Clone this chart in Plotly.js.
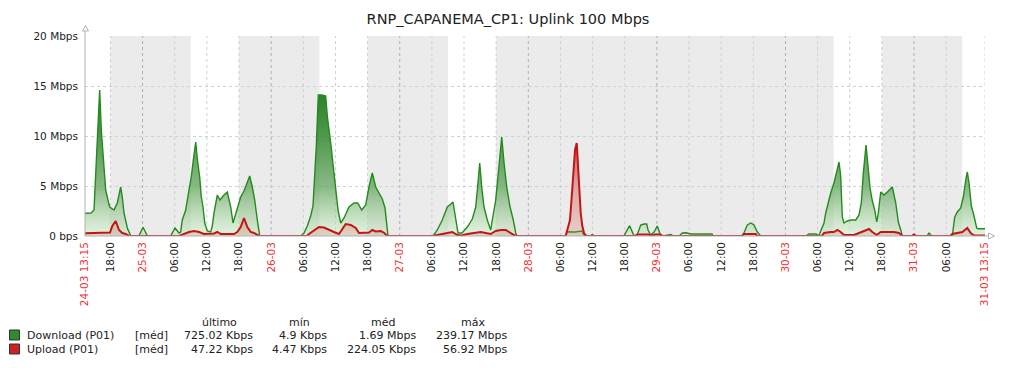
<!DOCTYPE html>
<html><head><meta charset="utf-8">
<script src="https://cdn.plot.ly/plotly-3.0.1.min.js"></script>
<style>html,body{margin:0;padding:0;background:#fff}#chart{width:1016px;height:368px}</style>
</head><body><div id="chart"></div>
<script>
const chartTitle = 'RNP_CAPANEMA_CP1: Uplink 100 Mbps';

// hours since 24-03 13:15, values in Mbps
const dlHours = [0,1.12,1.68,2.0,2.30,2.56,2.74,3.04,3.42,3.86,
 4.29,4.61,5.41,6.03,6.66,6.96,7.28,7.60,7.90,8.53,
 10.08,10.83,11.63,16.0,16.80,17.55,17.86,18.16,18.80,19.41,
 19.84,20.22,20.67,20.96,21.41,21.71,22.03,22.35,22.83,23.46,
 23.76,24.08,24.70,25.20,25.63,25.95,26.56,27.20,27.63,28.43,
 29.06,29.68,30.30,30.74,31.23,31.68,32.16,32.61,40.27,40.88,
 41.50,42.13,42.56,42.88,43.18,43.55,44.24,44.93,45.23,45.87,
 46.29,46.80,47.23,47.73,48.35,49.28,50.21,50.91,51.65,52.40,
 53.01,53.63,54.27,54.88,55.50,56.0,56.43,56.56,64.99,65.76,
 66.69,67.63,68.70,69.20,69.63,70.38,71.36,72.30,72.93,73.36,
 73.68,74.05,74.48,75.10,75.73,76.03,76.67,77.15,77.60,77.79,
 78.22,78.72,79.34,79.95,80.40,80.64,89.73,89.98,91.47,92.78,
 93.15,94.27,94.70,95.0,100.6,101.66,102.48,103.10,103.73,104.35,
 104.85,105.10,105.60,106.22,106.83,107.34,107.9,109.33,109.76,110.9,
 111.5,112.2,113.12,117.04,117.23,122.64,123.01,123.63,124.27,124.88,
 125.50,126.13,134.59,135.15,136.45,137.01,137.33,137.95,138.27,138.56,
 139.20,139.81,140.43,140.75,141.06,141.36,141.68,142.30,142.93,143.87,
 144.48,144.91,145.29,145.79,146.16,146.54,146.97,147.41,147.79,148.09,
 148.53,149.15,149.77,150.70,151.34,151.82,152.27,152.57,157.18,157.55,
 158.11,161.90,162.35,162.83,163.47,163.95,164.40,164.70,165.02,165.45,
 165.95,166.45,166.69,168];
const dlMbps = [2.27,2.3,2.6,6.3,10.6,13.3,14.6,10.6,7.3,4.6,
 3.6,2.9,2.6,3.3,4.9,3.9,2.3,1.3,0.8,0.01,
 0.01,0.87,0.01,0.01,0.8,0.3,0.4,1.6,2.6,4.6,
 5.9,7.6,9.4,7.7,5.9,3.9,2.9,1.3,0.5,0.4,
 1.0,2.3,4.1,3.6,3.9,4.1,4.4,2.9,1.3,2.9,
 3.9,4.5,5.4,6.0,4.9,3.6,1.6,0.01,0.01,0.3,
 1.0,2.0,3.0,5.6,9.0,14.1,14.1,14.0,12.0,9.3,
 7.3,5.3,2.6,1.3,1.8,2.9,3.3,3.3,2.6,3.1,
 4.9,6.3,4.9,4.3,3.7,2.8,0.3,0.01,0.01,0.6,
 1.6,2.9,3.4,1.6,0.3,0.3,0.9,1.7,2.9,5.3,
 7.3,4.9,2.9,1.6,0.6,1.6,3.6,6.3,9.1,9.9,
 7.3,4.9,2.9,1.6,0.3,0.01,0.01,0.43,0.4,0.5,
 0.1,0.01,0.15,0.01,0.01,1.03,0.01,0.15,1.1,1.2,
 1.2,0.6,0.1,0.4,1.0,0.2,0.01,0.15,0.01,0.01,
 0.3,0.33,0.2,0.2,0.01,0.01,0.3,1.1,1.3,1.1,
 0.4,0.01,0.01,0.2,0.2,0.01,0.5,1.3,2.3,3.0,
 4.3,5.3,6.6,7.4,6.0,1.9,1.3,1.5,1.6,1.6,
 2.1,3.3,6.3,9.1,7.0,4.8,3.5,2.6,1.4,2.3,
 4.4,4.1,4.4,4.9,3.3,1.4,0.6,0.01,0.01,0.3,
 0.01,0.01,1.9,2.4,2.8,3.9,5.6,6.4,5.3,3.0,
 2.0,0.8,0.73,0.73];

const ulHours = [0,2.24,4.1,4.67,5.10,5.73,6.35,6.96,7.60,8.21,
 17.55,18.48,19.41,20.35,21.28,22.21,23.15,24.08,24.70,25.33,
 27.20,27.81,28.43,29.06,29.68,30.30,30.93,31.55,32.48,41.44,
 41.81,42.75,43.68,44.61,45.55,46.48,47.41,47.97,48.67,49.60,
 50.53,51.15,52.08,53.01,53.63,54.27,55.20,55.82,56.43,64.9,
 65.76,66.69,67.63,68.56,69.50,70.38,71.36,72.61,73.87,74.80,
 75.73,76.67,77.60,78.53,79.15,80.08,80.64,89.73,90.03,90.53,
 90.85,91.15,91.47,91.79,92.03,92.27,92.53,92.83,93.15,93.52,
 102.85,103.10,105.28,105.66,106.40,107.34,107.71,122.64,123.01,125.20,
 125.44,137.58,137.95,139.20,139.81,140.43,141.06,141.68,143.55,144.48,
 145.41,146.35,146.97,147.79,148.53,151.01,151.94,152.57,154.38,154.75,
 155.13,161.47,161.90,162.83,163.77,164.70,165.33,165.95,168];
const ulMbps = [0.27,0.33,0.33,0.35,1.0,1.5,0.6,0.3,0.2,0.01,
 0.01,0.2,0.4,0.5,0.4,0.2,0.2,0.25,0.4,0.2,
 0.2,0.2,0.4,0.9,1.8,0.9,0.4,0.3,0.01,0.01,
 0.2,0.6,0.9,0.85,0.6,0.4,0.2,0.6,1.2,1.1,
 0.8,0.3,0.3,0.35,0.6,0.45,0.5,0.33,0.01,0.01,
 0.1,0.2,0.3,0.4,0.1,0.05,0.2,0.3,0.4,0.3,
 0.2,0.5,0.6,0.6,0.4,0.1,0.01,0.01,0.6,1.6,
 3.9,6.3,8.6,9.3,7.3,4.6,2.3,1.0,0.3,0.01,
 0.01,0.15,0.15,0.01,0.15,0.15,0.01,0.01,0.2,0.2,
 0.01,0.01,0.3,0.4,0.4,0.6,0.4,0.1,0.1,0.3,
 0.5,0.7,0.4,0.1,0.4,0.4,0.3,0.01,0.01,0.15,
 0.01,0.01,0.2,0.3,0.4,0.8,0.3,0.05,0.05];

const tickHours = [0,4.75,10.75,16.75,22.75,28.75,34.75,40.75,46.75,52.75,
 58.75,64.75,70.75,76.75,82.75,88.75,94.75,100.75,106.75,112.75,
 118.75,124.75,130.75,136.75,142.75,148.75,154.75,160.75,168];
const tickLabels = ['24-03 13:15','18:00','25-03','06:00','12:00','18:00','26-03','06:00','12:00','18:00',
 '27-03','06:00','12:00','18:00','28-03','06:00','12:00','18:00','29-03','06:00',
 '12:00','18:00','30-03','06:00','12:00','18:00','31-03','06:00','31-03 13:15'];
const offStart = [4.75,28.75,52.75,76.75,148.75];
const offEnd   = [19.75,43.75,67.75,139.75,163.75];
const yTickVals = [0,5,10,15,20];
const yTickText = ['0 bps','5 Mbps','10 Mbps','15 Mbps','20 Mbps'];

const legendNames = ['Download (P01)','Upload (P01)'];
const legendColors = ['#2e8b2e','#cc2222'];
const legendFunc = '[méd]';
const statHeaders = ['último','mín','méd','máx'];
const statRows = [
  ['725.02 Kbps','4.9 Kbps','1.69 Mbps','239.17 Mbps'],
  ['47.22 Kbps','4.47 Kbps','224.05 Kbps','56.92 Mbps']
];

const FONT = 'DejaVu Sans';
const TXT = '#222';
const RED = '#ee3333';
const LFS = 11;

// pixel helpers for plot area (l=85,t=36,w=900,h=200)
const px = x => (x - 85) / 900;
const py = y => (236 - y) / 200;

const shapes = [];
offStart.forEach((s, i) => shapes.push({type:'rect', xref:'x', yref:'y', x0:s, x1:offEnd[i], y0:0, y1:20,
  fillcolor:'#ebebeb', line:{width:0}, layer:'below'}));
tickHours.forEach((h, i) => {
  const isDay = tickLabels[i].length === 5 && tickLabels[i].indexOf('-') > 0;
  if (h === 0) return;
  shapes.push({type:'line', xref:'x', yref:'y', x0:h, x1:h, y0:0, y1:20,
    line:{color: isDay ? '#a9b2b9' : '#c9d0d4', width:1, dash:'dot'}, layer:'below'});
});
// axes with arrows
const axc = '#aab3ba';
shapes.push({type:'line', xref:'paper', yref:'paper', x0:0, x1:0, y0:0, y1:py(31), line:{color:axc, width:1}});
shapes.push({type:'path', xref:'paper', yref:'paper', path:`M ${px(82.5)},${py(31)} L ${px(88.5)},${py(31)} L ${px(85.5)},${py(25.5)} Z`, line:{color:axc, width:1}, fillcolor:'#fff'});
shapes.push({type:'line', xref:'paper', yref:'paper', x0:0, x1:px(988.5), y0:0, y1:0, line:{color:axc, width:1}});
shapes.push({type:'path', xref:'paper', yref:'paper', path:`M ${px(988.5)},${py(233)} L ${px(988.5)},${py(239)} L ${px(994.5)},${py(236)} Z`, line:{color:axc, width:1}, fillcolor:'#fff'});

// legend
const annotations = [];
const rowY = [335, 349];
statHeaders.forEach((t, i) => annotations.push({xref:'paper', yref:'paper', x:px([219,299,383,473][i]), y:py(322),
  xanchor:'center', yanchor:'middle', text:t, showarrow:false, font:{family:FONT, size:LFS, color:TXT}}));
legendNames.forEach((n, r) => {
  shapes.push({type:'rect', xref:'paper', yref:'paper', x0:px(9.5), x1:px(19.5), y0:py(rowY[r]-5), y1:py(rowY[r]+5),
    fillcolor:legendColors[r], line:{color:'#333', width:1}});
  annotations.push({xref:'paper', yref:'paper', x:px(25), y:py(rowY[r]), xanchor:'left', yanchor:'middle',
    text:n, showarrow:false, font:{family:FONT, size:LFS, color:TXT}});
  annotations.push({xref:'paper', yref:'paper', x:px(133), y:py(rowY[r]), xanchor:'left', yanchor:'middle',
    text:legendFunc, showarrow:false, font:{family:FONT, size:LFS, color:TXT}});
  statRows[r].forEach((v, c) => annotations.push({xref:'paper', yref:'paper', x:px([255,329,418,509][c]), y:py(rowY[r]),
    xanchor:'right', yanchor:'middle', text:v, showarrow:false, font:{family:FONT, size:LFS, color:TXT}}));
});

const traces = [
  {x: dlHours, y: dlMbps, type:'scatter', mode:'lines', fill:'tozeroy',
   line:{color:'#248a1e', width:1.4},
   fillgradient:{type:'vertical', start:0, stop:14.6,
     colorscale:[[0,'rgba(205,232,200,0.55)'],[0.34,'rgba(105,168,100,0.8)'],[0.68,'rgba(62,140,58,0.9)'],[1,'rgba(32,122,32,0.97)']]},
   hoverinfo:'skip', showlegend:false},
  {x: ulHours, y: ulMbps, type:'scatter', mode:'lines', fill:'tozeroy',
   line:{color:'#c41414', width:2},
   fillgradient:{type:'vertical', start:0, stop:9.3,
     colorscale:[[0,'rgba(215,120,100,0.25)'],[0.5,'rgba(210,100,100,0.5)'],[1,'rgba(200,55,55,0.8)']]},
   hoverinfo:'skip', showlegend:false}
];

const layout = {
  width:1016, height:368,
  margin:{l:85, r:31, t:36, b:132},
  paper_bgcolor:'#fff', plot_bgcolor:'#fff',
  title:{text:chartTitle, x:0.5, xref:'container', xanchor:'center', y:1 - 19/368, yanchor:'middle',
    font:{family:FONT, size:14.5, color:TXT}},
  xaxis:{type:'linear', range:[0,168], tickmode:'array', tickvals:tickHours,
    ticktext: tickLabels.map(t => t.indexOf('-') > 0 ? `<span style="color:${RED}">${t}</span>` : t),
    tickangle:-90, tickfont:{family:FONT, size:10.5, color:TXT}, showgrid:false, zeroline:false,
    showline:false, ticks:'', ticklabelstandoff:3, fixedrange:true},
  yaxis:{range:[0,20], tickmode:'array', tickvals:yTickVals, ticktext:yTickText,
    tickfont:{family:FONT, size:10.5, color:TXT}, showgrid:true, gridcolor:'#cbd2d6', griddash:'3px,3px',
    zeroline:false, showline:false, ticks:'', ticklabelstandoff:6, fixedrange:true},
  shapes, annotations,
  showlegend:false
};

Plotly.newPlot('chart', traces, layout, {staticPlot:true, displayModeBar:false});
</script></body></html>
